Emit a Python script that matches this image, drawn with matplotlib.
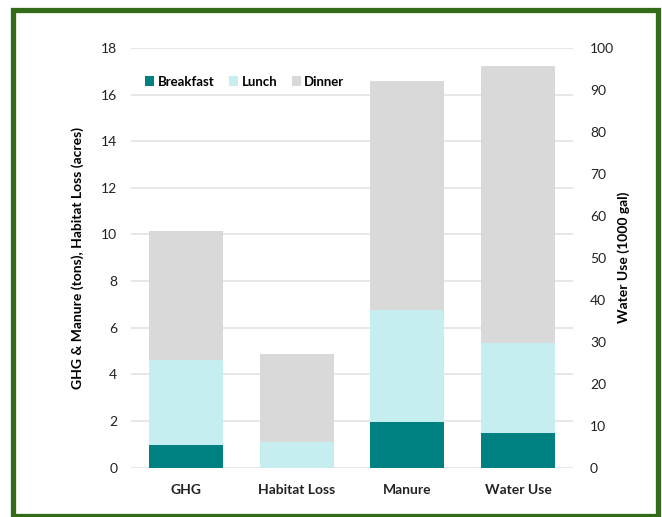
import matplotlib.pyplot as plt
import numpy as np
from matplotlib.patches import Rectangle

plt.rcParams['font.family'] = ['Lato', 'DejaVu Sans']

# Valores por refeição (eixo esquerdo: toneladas / acres)
categorias = ['GHG', 'Habitat Loss', 'Manure']
breakfast = [0.96, 0.0, 1.95]
lunch = [3.65, 1.10, 4.80]
dinner = [5.54, 3.77, 9.82]

# Uso de água (eixo direito: 1000 gal)
agua_categoria = 'Water Use'
agua_breakfast = 8.2
agua_lunch = 21.6
agua_dinner = 65.8

cores = {'Breakfast': '#008080', 'Lunch': '#C6EEF0', 'Dinner': '#D9D9D9'}
largura = 0.67

fig = plt.figure(figsize=(6.62, 5.17), dpi=100)
ax = fig.add_axes([0.198, 0.0954, 0.668, 0.812])
ax2 = ax.twinx()

x = np.arange(len(categorias))
b = np.array(breakfast)
l = np.array(lunch)
d = np.array(dinner)
ax.bar(x, b, largura, color=cores['Breakfast'], label='Breakfast', zorder=3)
ax.bar(x, l, largura, bottom=b, color=cores['Lunch'], label='Lunch', zorder=3)
ax.bar(x, d, largura, bottom=b + l, color=cores['Dinner'], label='Dinner', zorder=3)

xa = len(categorias)
ax2.bar(xa, agua_breakfast, largura, color=cores['Breakfast'], zorder=3)
ax2.bar(xa, agua_lunch, largura, bottom=agua_breakfast, color=cores['Lunch'], zorder=3)
ax2.bar(xa, agua_dinner, largura, bottom=agua_breakfast + agua_lunch,
        color=cores['Dinner'], zorder=3)

ax.set_xlim(-0.5, 3.5)
ax.set_ylim(0, 18)
ax2.set_ylim(0, 100)
ax.set_yticks(np.arange(0, 19, 2))
ax2.set_yticks(np.arange(0, 101, 10))
ax.set_xticks(list(x) + [xa])
ax.set_xticklabels(categorias + [agua_categoria], fontweight='bold', fontsize=10.3)

ax.grid(axis='y', color='#E3E3E3', linewidth=1.2, zorder=0)
for a in (ax, ax2):
    for s in a.spines.values():
        s.set_visible(False)
    a.tick_params(length=0, labelsize=10, colors='#222222')
ax.tick_params(axis='y', pad=10)
ax.tick_params(axis='x', pad=12)
ax2.tick_params(axis='y', pad=12)

ax.set_ylabel('GHG & Manure (tons), Habitat Loss (acres)', fontweight='bold',
              fontsize=10, labelpad=12)
ax2.set_ylabel('Water Use (1000 gal)', fontweight='bold', fontsize=10, labelpad=2)

ax.legend(loc='upper left', bbox_to_anchor=(0.005, 0.962), ncol=3, frameon=False,
          handlelength=0.7, handleheight=0.7, handletextpad=0.25,
          columnspacing=1.1, prop={'weight': 'bold', 'size': 9.5})

# Moldura verde ao redor da figura
fig.patches.append(Rectangle((13 / 662, 1 - 516 / 517), 645 / 662, 506 / 517,
                             transform=fig.transFigure, fill=False,
                             edgecolor='#336B1A', linewidth=3.8))

fig.savefig('out.png', dpi=100)
